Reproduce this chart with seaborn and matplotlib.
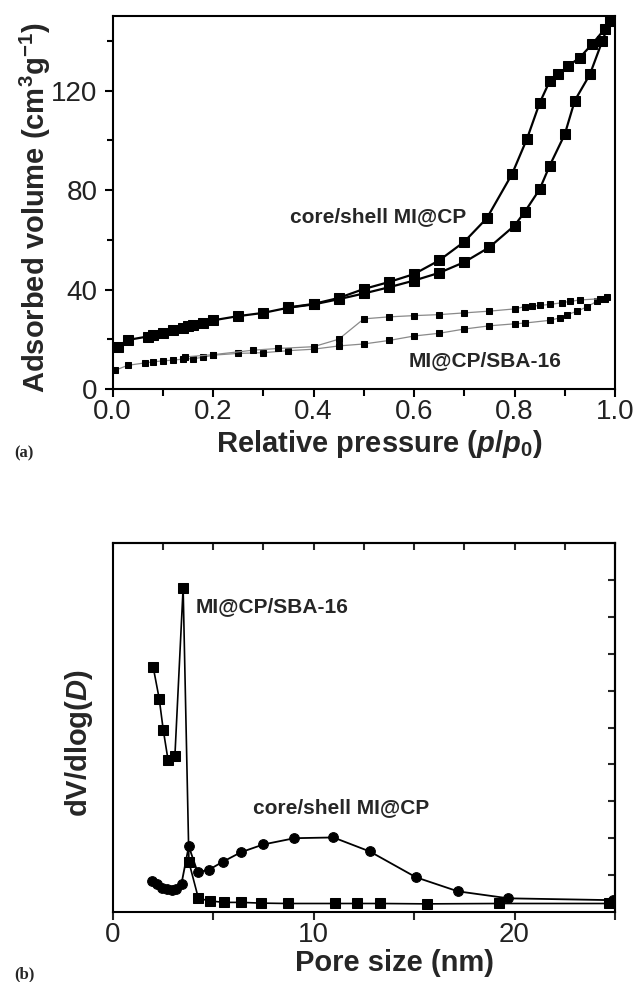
import numpy as np
import pandas as pd
import seaborn as sns
import matplotlib.pyplot as plt
from matplotlib.ticker import MultipleLocator

sns.set_style('ticks')
plt.rcParams['font.family'] = ['Liberation Sans', 'DejaVu Sans']
plt.rcParams['mathtext.fontset'] = 'custom'
plt.rcParams['mathtext.rm'] = 'Liberation Sans:bold'
plt.rcParams['mathtext.it'] = 'Liberation Sans:italic:bold'
plt.rcParams['mathtext.bf'] = 'Liberation Sans:bold'

# (a) N2 isotherms, core/shell MI@CP
cs_ads_p = [0.01, 0.03, 0.07, 0.08, 0.10, 0.12, 0.14, 0.15, 0.16, 0.18, 0.20, 0.25, 0.30, 0.35,
            0.40, 0.45, 0.50, 0.55, 0.60, 0.65, 0.70, 0.75, 0.80, 0.82, 0.85, 0.87, 0.90, 0.92,
            0.95, 0.975, 0.99]
cs_ads_v = [17.0, 19.7, 21.1, 21.8, 22.7, 23.8, 24.5, 25.2, 25.8, 26.5, 27.6, 29.3, 30.6, 32.7,
            34.0, 36.1, 38.4, 40.9, 43.6, 46.7, 51.0, 57.0, 65.7, 71.1, 80.3, 89.8, 102.4, 116.0,
            126.5, 140.1, 148.0]
cs_des_p = [0.99, 0.98, 0.955, 0.93, 0.907, 0.887, 0.87, 0.85, 0.825, 0.795, 0.745, 0.70, 0.65,
            0.60, 0.55, 0.50, 0.45, 0.40, 0.35]
cs_des_v = [148.0, 144.9, 138.8, 133.3, 129.9, 126.5, 123.8, 115.0, 100.7, 86.4, 68.7, 59.2, 51.7,
            46.2, 43.0, 40.2, 36.6, 34.2, 32.8]

# (a) MI@CP/SBA-16
sba_ads_p = [0.005, 0.03, 0.065, 0.08, 0.10, 0.12, 0.14, 0.16, 0.18, 0.20, 0.25, 0.30, 0.35, 0.40,
             0.45, 0.50, 0.55, 0.60, 0.65, 0.70, 0.75, 0.80, 0.82, 0.87, 0.89, 0.905, 0.925, 0.945,
             0.965, 0.98]
sba_ads_v = [7.5, 9.5, 10.5, 10.9, 11.3, 11.6, 12.0, 12.2, 12.7, 13.6, 14.3, 14.6, 15.4, 16.0,
             17.3, 18.1, 19.5, 21.3, 22.4, 24.1, 25.4, 26.2, 26.5, 27.6, 28.6, 29.9, 31.3, 33.1,
             35.4, 36.0]
sba_des_p = [0.985, 0.97, 0.93, 0.91, 0.895, 0.87, 0.85, 0.835, 0.82, 0.80, 0.75, 0.70, 0.65, 0.60,
             0.55, 0.50, 0.45, 0.40, 0.33, 0.28, 0.20, 0.145]
sba_des_v = [37.1, 36.3, 35.8, 35.2, 34.7, 34.0, 33.6, 33.3, 33.1, 32.2, 31.3, 30.6, 29.9, 29.5,
             29.0, 28.2, 20.0, 17.0, 16.3, 15.6, 13.8, 12.9]

# (b) pore size distributions (arbitrary units)
sba_d = [2.02, 2.32, 2.52, 2.76, 3.10, 3.51, 3.80, 4.27, 4.84, 5.54, 6.41, 7.40, 8.71, 11.09,
         12.18, 13.29, 15.67, 19.23, 24.70]
sba_dv = [6.64, 5.78, 4.94, 4.12, 4.22, 8.79, 1.35, 0.37, 0.30, 0.26, 0.26, 0.24, 0.23, 0.23,
          0.23, 0.23, 0.22, 0.23, 0.23]
cs_d = [1.96, 2.22, 2.46, 2.72, 2.96, 3.17, 3.43, 3.79, 4.23, 4.78, 5.48, 6.39, 7.50, 9.05,
        10.99, 12.80, 15.10, 17.18, 19.70, 24.9]
cs_dv = [0.84, 0.75, 0.66, 0.61, 0.59, 0.61, 0.77, 1.78, 1.08, 1.14, 1.36, 1.62, 1.83, 2.00,
         2.02, 1.64, 0.94, 0.56, 0.37, 0.32]

tick_col = '#222222'
lab_kw = dict(fontsize=21, fontweight='bold')

fig = plt.figure(figsize=(6.35, 9.82), dpi=100)
ax1 = fig.add_axes([0.1773, 0.6039, 0.7912, 0.3798])
ax2 = fig.add_axes([0.1773, 0.0713, 0.7912, 0.3757])

# ---- panel a
for p, v in [(sba_ads_p, sba_ads_v), (sba_des_p, sba_des_v)]:
    sns.lineplot(x=p, y=v, ax=ax1, sort=False, estimator=None, color='#8a8a8a', lw=0.9,
                 marker='s', markersize=5, markerfacecolor='k', markeredgecolor='k')
for p, v in [(cs_ads_p, cs_ads_v), (cs_des_p, cs_des_v)]:
    sns.lineplot(x=p, y=v, ax=ax1, sort=False, estimator=None, color='k', lw=1.6,
                 marker='s', markersize=7.5, markerfacecolor='k', markeredgecolor='k')

ax1.set_xlim(0, 1.0)
ax1.set_ylim(0, 150)
ax1.set_xticks(np.arange(0, 1.01, 0.2))
ax1.xaxis.set_minor_locator(MultipleLocator(0.1))
ax1.set_yticks([0, 40, 80, 120])
ax1.yaxis.set_minor_locator(MultipleLocator(20))
ax1.tick_params(which='both', direction='out', top=False, right=False, width=1.5,
                labelsize=20, labelcolor=tick_col, color='k')
ax1.tick_params(axis='x', which='major', length=6, pad=1)
ax1.tick_params(axis='x', which='minor', length=5)
ax1.tick_params(axis='y', which='major', length=6, pad=5)
ax1.tick_params(axis='y', which='minor', length=4)
ax1.set_xlabel(r'Relative pressure ($p/p_0$)', **lab_kw)
ax1.set_ylabel(r'Adsorbed volume (cm$^{3}$g$^{-1}$)', **lab_kw)
ax1.xaxis.set_label_coords(0.531, -0.105)
ax1.yaxis.set_label_coords(-0.1186, 0.485)
ax1.text(0.529, 69.5, 'core/shell MI@CP', fontsize=15, fontweight='bold', ha='center', va='center')
ax1.text(0.741, 11.5, 'MI@CP/SBA-16', fontsize=15, fontweight='bold', ha='center', va='center')

# ---- panel b
sns.lineplot(x=cs_d, y=cs_dv, ax=ax2, sort=False, estimator=None, color='k', lw=1.3,
             marker='o', markersize=7, markerfacecolor='k', markeredgecolor='k')
sns.lineplot(x=sba_d, y=sba_dv, ax=ax2, sort=False, estimator=None, color='k', lw=1.2,
             marker='s', markersize=6.5, markerfacecolor='k', markeredgecolor='k')

ax2.set_xlim(0, 25)
ax2.set_ylim(0, 10)
ax2.set_xticks([0, 5, 10, 15, 20, 25])
ax2.set_xticklabels(['0', '', '10', '', '20', ''])
ax2.set_yticks([])
ax2.tick_params(axis='x', direction='out', top=False, length=6, width=1.5, pad=1,
                labelsize=20, labelcolor=tick_col)
sec_top = ax2.secondary_xaxis('top')
sec_top.set_xticks(np.arange(0, 25.1, 2.5))
sec_top.tick_params(direction='in', length=5, width=1.5, labeltop=False)
sec_right = ax2.secondary_yaxis('right')
sec_right.set_yticks(np.arange(1, 10))
sec_right.tick_params(direction='in', length=5, width=1.5, labelright=False)
ax2.set_xlabel('Pore size (nm)', **lab_kw)
ax2.set_ylabel(r'dV/dlog($D$)', **lab_kw)
ax2.xaxis.set_label_coords(0.561, -0.100)
ax2.yaxis.set_label_coords(-0.0354, 0.459)
ax2.text(7.96, 8.28, 'MI@CP/SBA-16', fontsize=15, fontweight='bold', ha='center', va='center')
ax2.text(11.37, 2.84, 'core/shell MI@CP', fontsize=15, fontweight='bold', ha='center', va='center')

for ax in (ax1, ax2):
    for s in ax.spines.values():
        s.set_linewidth(1.5)
        s.set_color('k')
for a in (sec_top, sec_right):
    for s in a.spines.values():
        s.set_linewidth(1.5)

fig.text(24 / 635, 1 - 453 / 982, '(a)', family='Liberation Serif', fontweight='bold',
         fontsize=12, ha='center', va='center')
fig.text(24 / 635, 1 - 974 / 982, '(b)', family='Liberation Serif', fontweight='bold',
         fontsize=12, ha='center', va='center')

fig.savefig('out.png', dpi=100)
